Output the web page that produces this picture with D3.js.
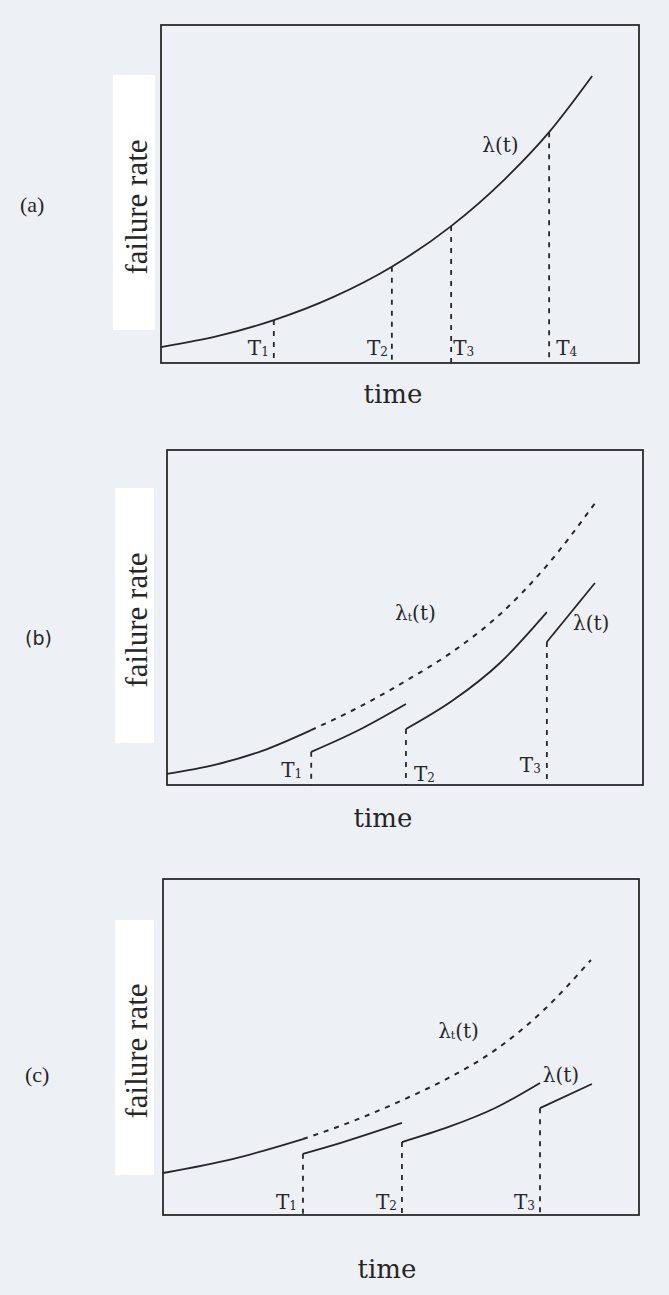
<!DOCTYPE html>
<html>
<head>
<meta charset="utf-8">
<style>
  body { margin: 0; background: #edf0f5; }
  svg { display: block; }
  .frame { fill: none; stroke: #2a2a2a; stroke-width: 1.8; }
  .curve { fill: none; stroke: #262626; stroke-width: 1.8; }
  .ideal { fill: none; stroke: #262626; stroke-width: 2; stroke-dasharray: 5,6; }
  .mark { stroke: #262626; stroke-width: 1.8; stroke-dasharray: 5,6; }
  text { fill: #262626; }
  .times { font-family: "Liberation Serif", "Times New Roman", serif; }
  .book { font-family: "DejaVu Serif", Georgia, serif; }
  .sans { font-family: "DejaVu Sans", Verdana, sans-serif; }
</style>
</head>
<body>
<svg id="chart" width="669" height="1295"></svg>
<script src="https://d3js.org/d3.v7.min.js"></script>
<script>
// time axis and failure-rate axis both run 0..100 (arbitrary units)

// (a) one continuous failure rate, PM at T1..T4
const aMarks = [23.6, 48.3, 60.7, 81.2];
const aMarkNames = ['1', '2', '3', '4'];
const aTime = [[0, 12, 23.6, 36, 48.3, 60.7, 72, 81.2, 90.2]];
const aRate = [[4.7, 8.0, 12.7, 19.5, 28.5, 40.5, 54.5, 68.3, 84.9]];

// (b) rate drops at each PM, dashed = without PM
const bMarks = [30.3, 50.2, 79.8];
const bMarkNames = ['1', '2', '3'];
const bTime = [[0, 10, 20, 30.3], [30.3, 40, 50.2], [50.2, 60, 70, 79.8], [79.8, 89.9]];
const bRate = [[3.3, 6.0, 10.2, 16.4], [9.9, 16.2, 24.2], [16.7, 25.2, 36.5, 51.6], [42.7, 60.3]];
const bIdealTime = [30.3, 40, 50.2, 60, 70, 79.8, 90.1];
const bIdealRate = [16.4, 23.0, 31.1, 39.8, 51.0, 65.5, 84.5];

// (c)
const cMarks = [29.4, 50.2, 79.2];
const cMarkNames = ['1', '2', '3'];
const cTime = [[0, 15, 29.4], [29.4, 37.2, 50.2], [50.2, 60, 70, 79.2], [79.2, 90.1]];
const cRate = [[12.5, 16.8, 22.6], [18.2, 21.4, 27.4], [21.7, 26.2, 32.0, 39.3], [31.8, 39.0]];
const cIdealTime = [29.4, 40, 50, 60, 70, 80, 89.9];
const cIdealRate = [22.6, 28.0, 34.0, 40.8, 49.3, 61.0, 75.9];

// layout of the three panels
const panels = [
  { tag: '(a)', tagClass: 'times', tagSize: 22, tagX: 20, tagY: 212,
    x0: 161, x1: 639, y0: 25, y1: 363, box: [113, 75, 42, 255], labelY: 207, timeX: 393, timeY: 403,
    marks: aMarks, names: aMarkNames, time: aTime, rate: aRate,
    labelAt: [['end', -5, 355], ['end', -4, 355], ['start', 2, 355], ['start', 7, 355]],
    notes: [{ t: 67.2, r: 62.4, sub: false }] },
  { tag: '(b)', tagClass: 'sans', tagSize: 19, tagX: 25, tagY: 645,
    x0: 167, x1: 643, y0: 450, y1: 785, box: [115, 488, 39, 255], labelY: 620, timeX: 383, timeY: 827,
    marks: bMarks, names: bMarkNames, time: bTime, rate: bRate, idealT: bIdealTime, idealR: bIdealRate,
    labelAt: [['end', -9, 777], ['start', 8, 781], ['end', -6, 772]],
    notes: [{ t: 47.9, r: 49.3, sub: true }, { t: 85.3, r: 46.3, sub: false }] },
  { tag: '(c)', tagClass: 'times', tagSize: 22, tagX: 25, tagY: 1082,
    x0: 163, x1: 639, y0: 879, y1: 1215, box: [115, 920, 39, 255], labelY: 1051, timeX: 387, timeY: 1278,
    marks: cMarks, names: cMarkNames, time: cTime, rate: cRate, idealT: cIdealTime, idealR: cIdealRate,
    labelAt: [['end', -6, 1209], ['end', -5, 1209], ['end', -5, 1209]],
    notes: [{ t: 57.8, r: 52.7, sub: true }, { t: 79.8, r: 39.6, sub: false }] }
];

const svg = d3.select('#chart');

panels.forEach(p => {
  const g = svg.append('g');
  const x = d3.scaleLinear().domain([0, 100]).range([p.x0, p.x1]);
  const y = d3.scaleLinear().domain([0, 100]).range([p.y1, p.y0]);
  const line = d3.line().x(d => x(d[0])).y(d => y(d[1])).curve(d3.curveMonotoneX);

  // white strip behind the y label
  g.append('rect').attr('x', p.box[0]).attr('y', p.box[1])
   .attr('width', p.box[2]).attr('height', p.box[3]).attr('fill', '#fff');
  g.append('text').attr('class', 'times')
   .attr('transform', `translate(147, ${p.labelY}) rotate(-90)`)
   .attr('text-anchor', 'middle')
   .style('font-size', '31px')
   .text('failure rate');

  g.append('text').attr('class', p.tagClass).attr('x', p.tagX).attr('y', p.tagY)
   .style('font-size', p.tagSize + 'px')
   .text(p.tag);

  g.append('rect').attr('class', 'frame')
   .attr('x', p.x0).attr('y', p.y0).attr('width', p.x1 - p.x0).attr('height', p.y1 - p.y0);

  // dashed curve without maintenance
  if (p.idealT) {
    g.append('path').attr('class', 'ideal')
     .attr('d', line(p.idealT.map((t, i) => [t, p.idealR[i]])));
  }

  // solid failure-rate segments
  g.selectAll('.curve').data(p.time).enter().append('path')
   .attr('class', 'curve')
   .attr('d', (ts, k) => line(ts.map((t, i) => [t, p.rate[k][i]])));

  // dashed verticals at the PM times, from the curve down to the axis
  p.marks.forEach((m, i) => {
    let top;
    if (p.time.length === 1) {
      const k = p.time[0].indexOf(m);
      top = p.rate[0][k];
    } else {
      top = p.rate[i + 1][0];
    }
    g.append('line').attr('class', 'mark')
     .attr('x1', x(m)).attr('x2', x(m)).attr('y1', y(top)).attr('y2', p.y1);

    const [anchor, dx, by] = p.labelAt[i];
    const t = g.append('text').attr('class', 'book').attr('x', x(m) + dx).attr('y', by)
     .attr('text-anchor', anchor)
     .style('font-size', '20px');
    t.append('tspan').text('T');
    t.append('tspan').attr('dy', 1).style('font-size', '12px').text(p.names[i]);
  });

  // curve names
  p.notes.forEach(n => {
    const t = g.append('text').attr('class', 'book').attr('x', x(n.t)).attr('y', y(n.r))
     .style('font-size', '20px');
    t.append('tspan').text('λ');
    if (n.sub) {
      t.append('tspan').attr('dy', 1).style('font-size', '11px').text('t');
      t.append('tspan').attr('dy', -1).text('(t)');
    } else {
      t.append('tspan').text('(t)');
    }
  });

  g.append('text').attr('class', 'book').attr('x', p.timeX).attr('y', p.timeY)
   .attr('text-anchor', 'middle')
   .style('font-size', '26px')
   .text('time');
});
</script>
</body>
</html>
